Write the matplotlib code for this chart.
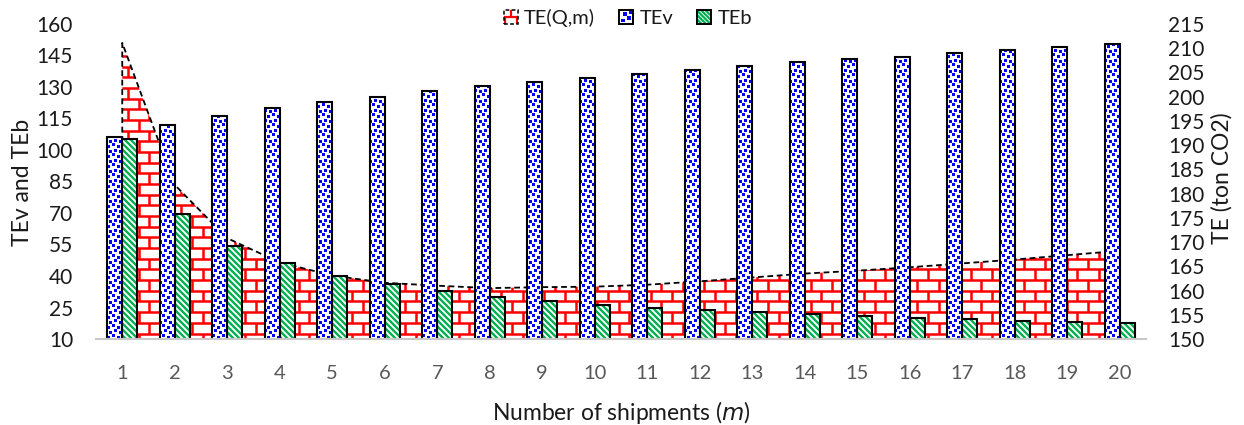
import numpy as np
import matplotlib
matplotlib.use("Agg")
import matplotlib.pyplot as plt
from matplotlib import transforms as mtransforms
from matplotlib.collections import LineCollection, PolyCollection
from matplotlib.patches import Rectangle
from matplotlib.path import Path
from matplotlib.legend_handler import HandlerBase

# ---------------------------------------------------------------- data
shipments = list(range(1, 21))
te_v = [106.0, 112.0, 116.3, 119.8, 122.9, 125.4, 128.1, 130.3, 132.5, 134.4,
        136.3, 138.1, 140.0, 141.8, 143.1, 144.5, 146.0, 147.6, 149.0, 150.6]
te_b = [105.2, 69.7, 54.4, 46.0, 40.1, 36.2, 32.9, 30.1, 28.2, 26.3,
        24.9, 23.8, 22.7, 21.8, 20.9, 20.1, 19.5, 18.7, 18.2, 17.6]
te_total = [211.1, 181.8, 170.8, 165.8, 163.1, 161.6, 161.0, 160.5, 160.7, 160.8,
            161.2, 161.9, 162.7, 163.5, 164.1, 164.8, 165.6, 166.4, 167.3, 168.2]
left_ticks = list(range(10, 161, 15))
right_ticks = list(range(150, 216, 5))
legend_labels = ["TE(Q,m)", "TEv", "TEb"]

# ---------------------------------------------------------------- style
RED = "#FF0000"
BLUE = "#0000FF"
GREEN = "#00B050"
TICK_DARK = "#1a1a1a"
TICK_GREY = "#595959"

plt.rcParams["font.family"] = ["Lato", "DejaVu Sans"]

FIG_W, FIG_H, DPI = 1244, 425, 100
AX_L, AX_B, AX_W, AX_H = 96, 86, 1050, 315

fig = plt.figure(figsize=(FIG_W / DPI, FIG_H / DPI), dpi=DPI)
ax = fig.add_axes([AX_L / FIG_W, AX_B / FIG_H, AX_W / FIG_W, AX_H / FIG_H])
ax2 = ax.twinx()
# bars (left axis) sit in front of the area (right axis)
ax2.set_zorder(0)
ax.set_zorder(1)
ax.patch.set_visible(False)

# pixel units measured from the lower-left corner of the plot area
px = mtransforms.Affine2D().scale(1 / AX_W, 1 / AX_H) + ax.transAxes

x = np.array(shipments, dtype=float)

# ---------------------------------------------------------------- area TE(Q,m)
floor = right_ticks[0]
poly_x = np.concatenate([[x[0]], x, [x[-1]]])
poly_y = np.concatenate([[floor], te_total, [floor]])
area = ax2.fill(poly_x, poly_y, facecolor="white", edgecolor="none", zorder=1)[0]

brick_h, brick_w = 10.67, 21.33
segs = []
rows = np.arange(5.5, AX_H, brick_h)
for yv in rows:
    segs.append([(0, yv), (AX_W, yv)])
edges = np.concatenate([[0.0], rows, [AX_H]])
for i in range(len(edges) - 1):
    off = 0.0 if i % 2 == 0 else brick_w / 2
    for xv in np.arange(off, AX_W, brick_w):
        segs.append([(xv, edges[i]), (xv, edges[i + 1])])
bricks = LineCollection(segs, colors=RED, linewidths=1.8, transform=px, zorder=2)
bricks.set_clip_path(area)
ax2.add_collection(bricks, autolim=False)

ax2.plot(poly_x[:-1], poly_y[:-1], color="black", lw=1.3,
         linestyle=(0, (3.2, 2.0)), zorder=3)

# ---------------------------------------------------------------- bars
bw = 15 / 52.5
bars_v = ax.bar(x - bw / 2, te_v, width=bw, facecolor="white",
                edgecolor="none", zorder=1)
bars_b = ax.bar(x + bw / 2, te_b, width=bw, facecolor="white",
                edgecolor="none", zorder=1)


def compound(container):
    paths = [p.get_path().transformed(p.get_patch_transform())
             for p in container.patches]
    return Path.make_compound_path(*paths)


# confetti squares for TEv
cell = 10.0
sq = 3.0
spots = [(0.5, 0.5), (5.5, 2.5), (2.5, 5.5), (7.5, 7.0)]
squares = []
for cx in np.arange(0, AX_W, cell):
    for cy in np.arange(0, AX_H, cell):
        for dx, dy in spots:
            x0, y0 = cx + dx, cy + dy
            squares.append([(x0, y0), (x0 + sq, y0), (x0 + sq, y0 + sq), (x0, y0 + sq)])
dots = PolyCollection(squares, facecolors=BLUE, edgecolors="none",
                      transform=px, zorder=1.5)
dots.set_clip_path(compound(bars_v), ax.transData)
ax.add_collection(dots, autolim=False)

# downward diagonal stripes for TEb
period = 6.0
stripe_segs = [[(c, 0), (c - AX_H, AX_H)] for c in np.arange(0, AX_W + AX_H, period)]
stripes = LineCollection(stripe_segs, colors=GREEN, linewidths=1.7,
                         transform=px, zorder=1.5)
stripes.set_clip_path(compound(bars_b), ax.transData)
ax.add_collection(stripes, autolim=False)

# outlines on top of the textures
ax.bar(x - bw / 2, te_v, width=bw, fill=False, edgecolor="black", linewidth=1.5, zorder=2)
ax.bar(x + bw / 2, te_b, width=bw, fill=False, edgecolor="black", linewidth=1.5, zorder=2)

# ---------------------------------------------------------------- axes
ax.set_xlim(0.5, 20.5)
ax.set_ylim(left_ticks[0], left_ticks[-1])
ax2.set_ylim(right_ticks[0], right_ticks[-1])
ax.set_xticks(shipments)
ax.set_yticks(left_ticks)
ax2.set_yticks(right_ticks)

ax.tick_params(axis="y", length=0, pad=16.5, labelsize=15, labelcolor=TICK_DARK)
ax.tick_params(axis="x", length=0, pad=18.5, labelsize=14.5, labelcolor=TICK_GREY)
ax2.tick_params(axis="y", length=0, pad=16, labelsize=15, labelcolor=TICK_DARK)

for side in ("top", "left", "right"):
    ax.spines[side].set_visible(False)
ax.spines["bottom"].set_color("#C8C8C8")
ax.spines["bottom"].set_linewidth(1.5)
for side in ax2.spines:
    ax2.spines[side].set_visible(False)

fig.text(23 / FIG_W, 1 - 182 / FIG_H, "TEv and TEb", rotation=90,
         ha="center", va="center", fontsize=16.5, color=TICK_DARK)
fig.text(1222 / FIG_W, 1 - 178 / FIG_H, "TE (ton CO2)", rotation=90,
         ha="center", va="center", fontsize=16.5, color=TICK_DARK)
fig.text(621 / FIG_W, 1 - 412 / FIG_H, r"Number of shipments ($\mathit{m}$)",
         ha="center", va="center", fontsize=16.5, color=TICK_DARK)


# ---------------------------------------------------------------- legend
class SwatchHandler(HandlerBase):
    def __init__(self, kind):
        super().__init__()
        self.kind = kind

    def create_artists(self, legend, orig_handle, xdescent, ydescent,
                       width, height, fontsize, trans):
        s = min(width, height)
        x0 = -xdescent + (width - s) / 2
        y0 = -ydescent + (height - s) / 2
        bg = Rectangle((x0, y0), s, s, facecolor="white", edgecolor="none",
                       transform=trans)
        arts = [bg]
        if self.kind == "brick":
            m = y0 + s / 2
            lines = [[(x0, m), (x0 + s, m)],
                     [(x0 + s / 2, m), (x0 + s / 2, y0 + s)],
                     [(x0 + s * 0.1, y0), (x0 + s * 0.1, m)],
                     [(x0 + s * 0.9, y0), (x0 + s * 0.9, m)]]
            tex = LineCollection(lines, colors=RED, linewidths=1.6, transform=trans)
            border = Rectangle((x0, y0), s, s, fill=False, edgecolor="black",
                               linewidth=1.1, linestyle=(0, (2.5, 1.5)), transform=trans)
        elif self.kind == "dots":
            q = s * 0.26
            pos = [(0.12, 0.12), (0.58, 0.3), (0.3, 0.6), (0.66, 0.7)]
            polys = [[(x0 + a * s, y0 + b * s), (x0 + a * s + q, y0 + b * s),
                      (x0 + a * s + q, y0 + b * s + q), (x0 + a * s, y0 + b * s + q)]
                     for a, b in pos]
            tex = PolyCollection(polys, facecolors=BLUE, edgecolors="none", transform=trans)
            border = Rectangle((x0, y0), s, s, fill=False, edgecolor="black",
                               linewidth=1.4, transform=trans)
        else:
            step = s / 3.2
            lines = [[(x0 + c, y0), (x0 + c - s, y0 + s)]
                     for c in np.arange(0, 2 * s + step, step)]
            tex = LineCollection(lines, colors=GREEN, linewidths=1.6, transform=trans)
            border = Rectangle((x0, y0), s, s, fill=False, edgecolor="black",
                               linewidth=1.4, transform=trans)
        tex.set_clip_path(bg)
        arts += [tex, border]
        return arts


h_area = Rectangle((0, 0), 1, 1)
h_v = Rectangle((0, 0), 1, 1)
h_b = Rectangle((0, 0), 1, 1)
leg = fig.legend([h_area, h_v, h_b], legend_labels,
                 handler_map={h_area: SwatchHandler("brick"),
                              h_v: SwatchHandler("dots"),
                              h_b: SwatchHandler("stripes")},
                 loc="center", bbox_to_anchor=(628 / FIG_W, 1 - 18 / FIG_H),
                 ncol=3, frameon=False, fontsize=14.5,
                 handlelength=0.7, handleheight=0.7, handletextpad=0.3,
                 columnspacing=1.2, borderpad=0, borderaxespad=0)
for t in leg.get_texts():
    t.set_color(TICK_DARK)

fig.savefig("out.png", dpi=DPI)
